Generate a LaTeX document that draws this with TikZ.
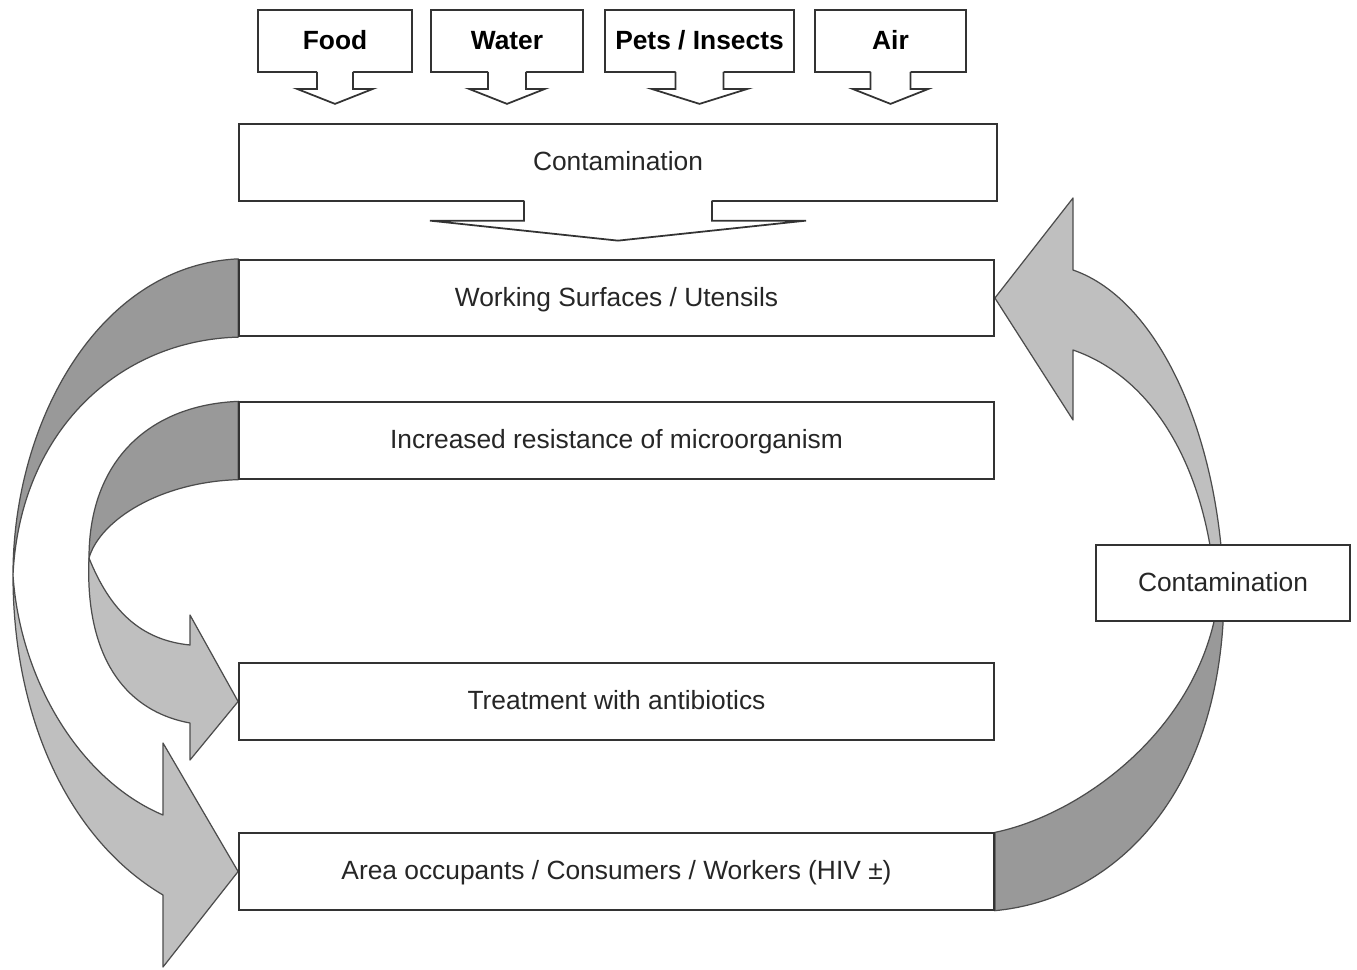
\documentclass[tikz,border=0pt]{standalone}
\usepackage{fontspec}
\setmainfont{Liberation Sans}
\usetikzlibrary{calc,backgrounds}
\begin{document}
\begin{tikzpicture}[x=0.2mm,y=-0.2mm,
	box/.style={draw=black!80, line width=1pt, fill=white, inner sep=0pt, minimum height=15.3mm, minimum width=151mm, text height=1.14em, text depth=0.2em, text=black!85, font=\fontsize{15}{18}\selectfont},
	srcbox/.style={box, minimum height=12.4mm, text=black, font=\fontsize{15}{18}\selectfont\bfseries},
	stemline/.style={draw=black!80, line width=1pt},
	backband/.style={draw=black!70, line width=0.7pt, fill=black!40},
	frontband/.style={draw=black!70, line width=0.7pt, fill=black!25, line join=round}]
	\useasboundingbox (0,0) rectangle (1357,969);
	% sources
	\node (food)  at (335,41)   [srcbox, minimum width=30.8mm]	{Food};
	\node (water) at (507,41)   [srcbox, minimum width=30.4mm]	{Water};
	\node (pets)  at (699.5,41) [srcbox, minimum width=37.8mm]	{Pets / Insects};
	\node (air)   at (890.5,41) [srcbox, minimum width=30.2mm]	{Air};
	% main column
	\node (contTop)  at (618,162.5)   [box, minimum width=151.6mm]	{Contamination};
	\node (work)     at (616.5,298)   [box]	{Working Surfaces / Utensils};
	\node (resist)   at (616.5,440.5) [box]	{Increased resistance of microorganism};
	\node (treat)    at (616.5,701.5) [box]	{Treatment with antibiotics};
	\node (occup)    at (616.5,871.5) [box]	{Area occupants / Consumers / Workers (HIV ±)};
	\node (contSide) at (1223,583)    [box, minimum width=50.8mm]	{Contamination};
	% callout stems
	\foreach \n/\s/\h/\a/\b in {food/18/38/16/31, water/19/38/16/31, pets/24/48/16/31, air/20/38/16/31, contTop/94/188/19/39}
	{
		\fill[white] ($(\n.south)+(-\s,-2)$) -- ($(\n.south)+(-\s,\a)$) -- ($(\n.south)+(-\h,\a)$) -- ($(\n.south)+(0,\b)$)
			-- ($(\n.south)+(\h,\a)$) -- ($(\n.south)+(\s,\a)$) -- ($(\n.south)+(\s,-2)$) -- cycle;
		\draw[stemline] ($(\n.south)+(-\s,-1)$) -- ($(\n.south)+(-\s,\a)$) -- ($(\n.south)+(-\h,\a)$) -- ($(\n.south)+(0,\b)$)
			-- ($(\n.south)+(\h,\a)$) -- ($(\n.south)+(\s,\a)$) -- ($(\n.south)+(\s,-1)$);
	}
	\begin{pgfonlayer}{background}
		% outer loop
		\filldraw[backband] (work.north west) .. controls (100,265) and (13,420) .. (13,575)
			.. controls (20,430) and (120,340) .. (work.south west) -- cycle;
		\filldraw[frontband] (13,575) .. controls (20,680) and (80,780) .. (163,815) -- (163,743) -- (occup.west)
			-- (163,967) -- (163,895) .. controls (70,840) and (13,720) .. (13,575) -- cycle;
		% inner loop
		\filldraw[backband] (resist.north west) .. controls (150,405) and (89,460) .. (89,558)
			.. controls (100,520) and (160,482) .. (resist.south west) -- cycle;
		\filldraw[frontband] (89,558) .. controls (110,610) and (140,640) .. (190,645) -- (190,615) -- (treat.west)
			-- (190,760) -- (190,723) .. controls (120,710) and (85,650) .. (89,558) -- cycle;
		% right loop
		\filldraw[backband] (occup.north east) .. controls (1080,815) and (1200,730) .. (1218,600) -- (1224,600)
			.. controls (1220,800) and (1110,900) .. (occup.south east) -- cycle;
		\filldraw[frontband] (1224,600) .. controls (1222,440) and (1160,300) .. (1073,270) -- (1073,198) -- (work.east)
			-- (1073,420) -- (1073,350) .. controls (1160,380) and (1210,480) .. (1216,600) -- cycle;
	\end{pgfonlayer}
\end{tikzpicture}
\end{document}
